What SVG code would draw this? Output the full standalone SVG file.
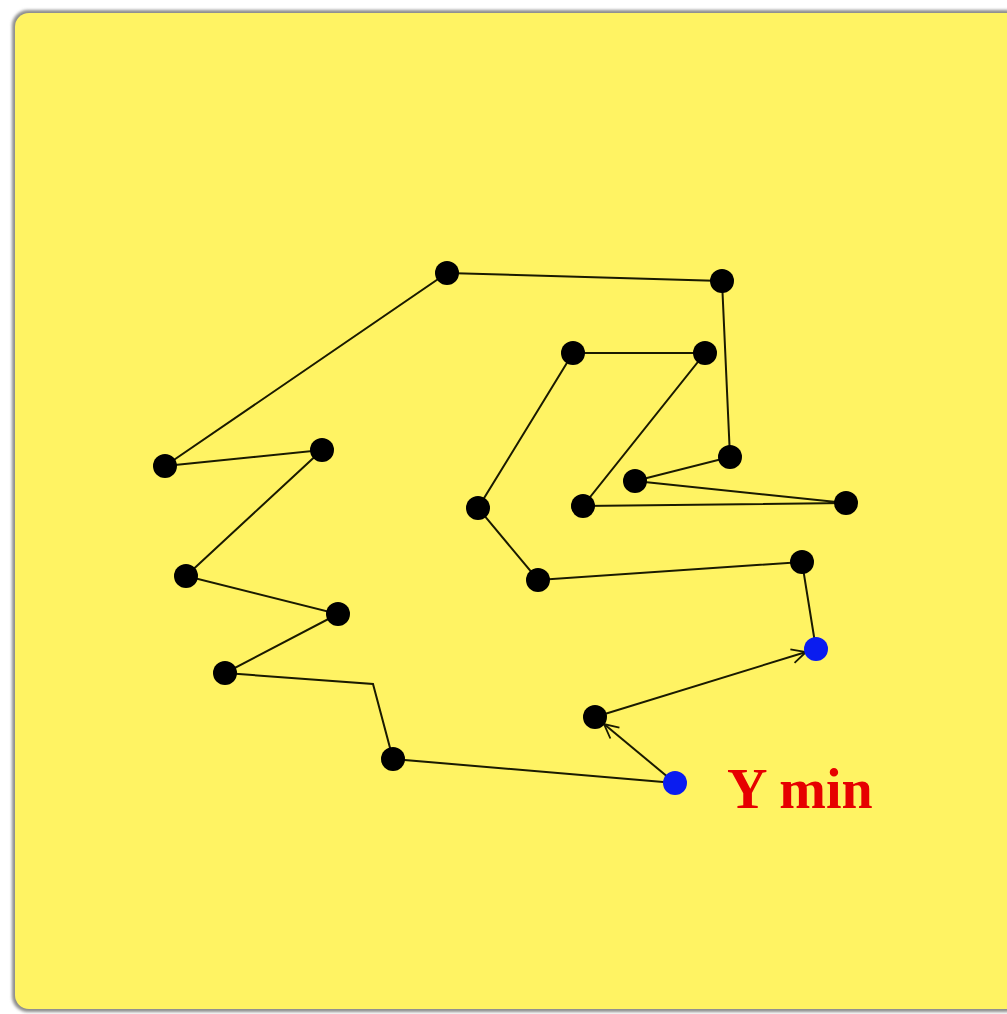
<svg xmlns="http://www.w3.org/2000/svg" width="1007" height="1014" viewBox="0 0 1007 1014">
<style>
.edge{stroke:#1a1a00;stroke-width:2;fill:none}
.pt{fill:#000}
.hi{fill:#0a1cf0}
.lbl{font-family:"Liberation Serif",serif;font-weight:bold;font-size:56px;fill:#e60000}
</style>
<defs>
<marker id="arr" viewBox="0 0 12 12" refX="11" refY="6" markerWidth="17" markerHeight="17" markerUnits="userSpaceOnUse" orient="auto">
<path d="M1,1 L11,6 L1,11" fill="none" stroke="#1a1a00" stroke-width="1.3"/>
</marker>
<filter id="sh" x="-5%" y="-5%" width="110%" height="110%"><feGaussianBlur stdDeviation="1.5"/></filter>
</defs>
<rect width="1007" height="1014" fill="#fff"/>
<rect x="12" y="10" width="1010" height="1002" rx="16" fill="#8c8c8c" filter="url(#sh)"/>
<rect x="15" y="13" width="1010" height="996" rx="14" fill="#fff363"/>
<g id="connectors">
<polyline class="edge" points="675,783 393,759 373,684 225,673 338,614 186,576 322,450 165,466 447,273 722,281 730,457 635,481 846,503 583,506 705,353 573,353 478,508 538,580 802,562 816,649"/>
<line class="edge" x1="675" y1="783" x2="604" y2="724" marker-end="url(#arr)"/>
<line class="edge" x1="595" y1="717" x2="806" y2="652" marker-end="url(#arr)"/>
</g>
<g id="n1"><circle class="pt" cx="447" cy="273" r="12"/></g>
<g id="n2"><circle class="pt" cx="722" cy="281" r="12"/></g>
<g id="n3"><circle class="pt" cx="730" cy="457" r="12"/></g>
<g id="n4"><circle class="pt" cx="635" cy="481" r="12"/></g>
<g id="n5"><circle class="pt" cx="846" cy="503" r="12"/></g>
<g id="n6"><circle class="pt" cx="583" cy="506" r="12"/></g>
<g id="n7"><circle class="pt" cx="705" cy="353" r="12"/></g>
<g id="n8"><circle class="pt" cx="573" cy="353" r="12"/></g>
<g id="n9"><circle class="pt" cx="478" cy="508" r="12"/></g>
<g id="n10"><circle class="pt" cx="538" cy="580" r="12"/></g>
<g id="n11"><circle class="pt" cx="802" cy="562" r="12"/></g>
<g id="n12"><circle class="hi" cx="816" cy="649" r="12"/></g>
<g id="n13"><circle class="pt" cx="595" cy="717" r="12"/></g>
<g id="n14"><circle class="hi" cx="675" cy="783" r="12"/></g>
<g id="n15"><circle class="pt" cx="393" cy="759" r="12"/></g>
<g id="n16"><circle class="pt" cx="225" cy="673" r="12"/></g>
<g id="n17"><circle class="pt" cx="338" cy="614" r="12"/></g>
<g id="n18"><circle class="pt" cx="186" cy="576" r="12"/></g>
<g id="n19"><circle class="pt" cx="322" cy="450" r="12"/></g>
<g id="n20"><circle class="pt" cx="165" cy="466" r="12"/></g>
<g id="label"><text class="lbl" x="727" y="808">Y min</text></g>
</svg>
